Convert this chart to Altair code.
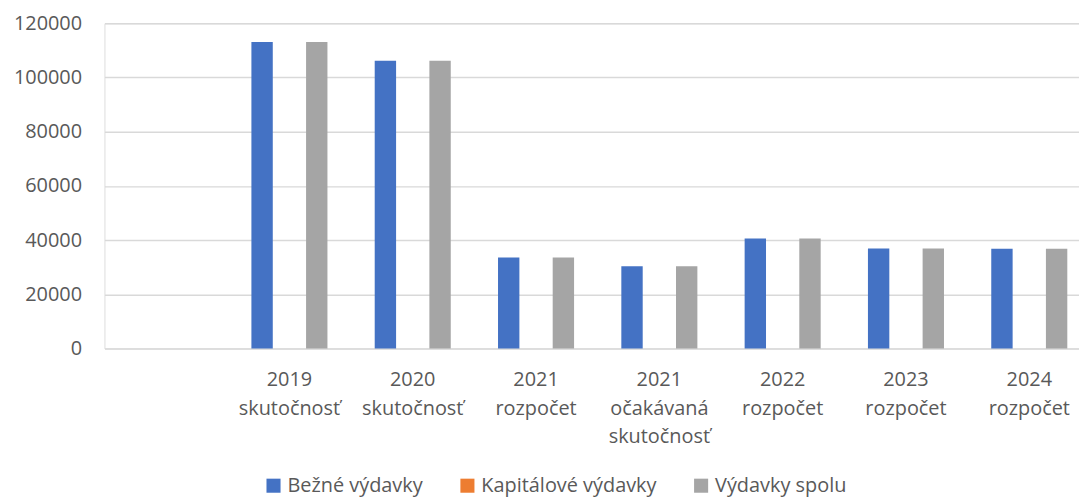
import altair as alt
import pandas as pd

# ---- data ----
categories = [" ", "2019|skutočnosť", "2020|skutočnosť", "2021|rozpočet",
              "2021|očakávaná|skutočnosť", "2022|rozpočet", "2023|rozpočet", "2024|rozpočet"]
series = ["Bežné výdavky", "Kapitálové výdavky", "Výdavky spolu"]
colors = ["#4472C4", "#ED7D31", "#A5A5A5"]
bezne = [113100, 106200, 33600, 30300, 40600, 36900, 36800]
kapitalove = [0, 0, 0, 0, 0, 0, 0]
spolu = [113100, 106200, 33600, 30300, 40600, 36900, 36800]
y_ticks = [0, 20000, 40000, 60000, 80000, 100000, 120000]

rows = []
for i, cat in enumerate(categories[1:]):
    for s, vals in zip(series, [bezne, kapitalove, spolu]):
        rows.append({"kat": cat, "typ": s, "hodnota": vals[i]})
df = pd.DataFrame(rows)

FONT = "Open Sans"
TXT = "#595959"

chart = alt.Chart(df).mark_bar().encode(
    x=alt.X("kat:N", sort=categories,
            scale=alt.Scale(domain=categories, range=[0, 992],
                            paddingInner=0.335, paddingOuter=0.1675),
            axis=alt.Axis(title=None, labelAngle=0, ticks=False, domain=False,
                          labelExpr="split(datum.label, '|')",
                          labelFont=FONT, labelFontSize=20, labelColor=TXT,
                          labelLineHeight=29, labelPadding=21, labelBaseline="top")),
    xOffset=alt.XOffset("typ:N", sort=series,
                        scale=alt.Scale(domain=series, paddingInner=0.218, paddingOuter=0.109)),
    y=alt.Y("hodnota:Q",
            scale=alt.Scale(domain=[0, 120000], nice=False),
            axis=alt.Axis(title=None, values=y_ticks, format="d", ticks=False, domain=False,
                          labelFont=FONT, labelFontSize=20, labelColor=TXT, labelPadding=23,
                          gridColor="#d9d9d9", gridWidth=1.5)),
    color=alt.Color("typ:N", sort=series,
                    scale=alt.Scale(domain=series, range=colors),
                    legend=alt.Legend(title=None, orient="none", direction="horizontal",
                                      legendX=160, legendY=455,
                                      symbolType="square", symbolSize=200, symbolStrokeWidth=0,
                                      labelFont=FONT, labelFontSize=20, labelColor=TXT,
                                      labelLimit=400, labelOffset=4, columnPadding=34)),
).properties(
    width=980, height=327,
    padding={"left": 97, "top": 14, "right": 0, "bottom": 150},
    autosize=alt.AutoSizeParams(type="none"),
).configure_view(stroke=None).configure(background="white")

chart.save("out.html", embed_options={"renderer": "svg", "actions": False})
